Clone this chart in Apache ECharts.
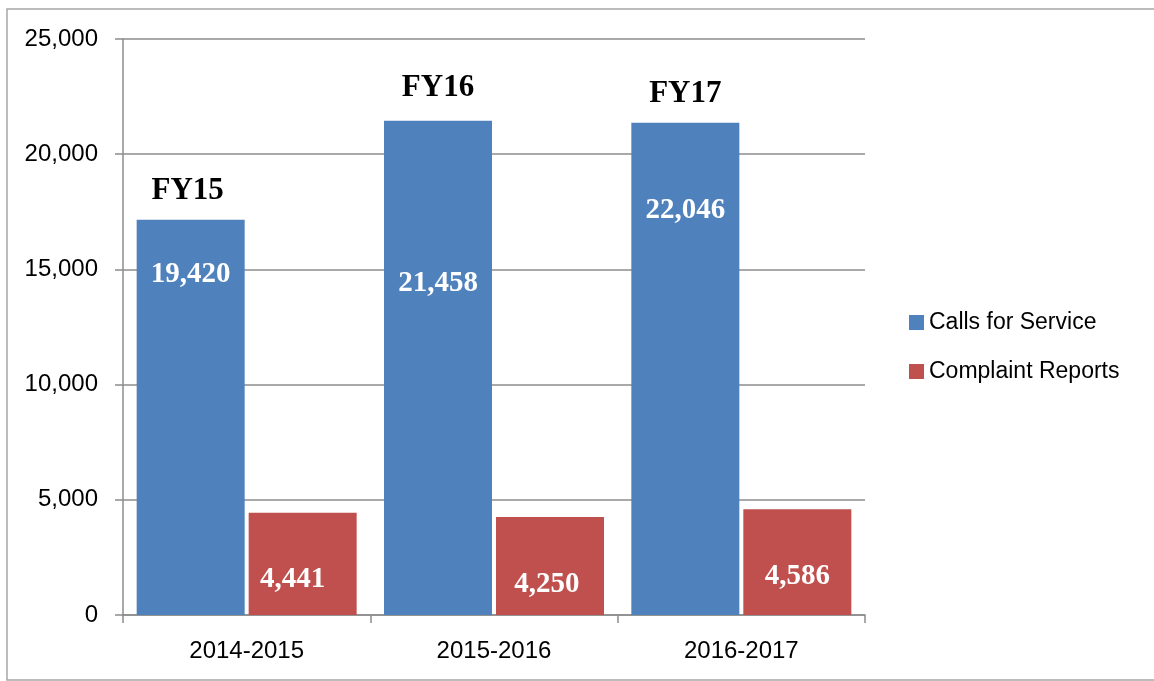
<!DOCTYPE html>
<html>
<head>
<meta charset="utf-8">
<script src="https://cdn.jsdelivr.net/npm/echarts@6/dist/echarts.min.js"></script>
<style>
  html, body { margin: 0; padding: 0; background: #fff; }
  #chart { width: 1154px; height: 681px; }
</style>
</head>
<body>
<div id="chart"></div>
<script>
// ---- data ----
const categories = ['2014-2015', '2015-2016', '2016-2017'];
const seriesNames = ['Calls for Service', 'Complaint Reports'];
const callsForService = [17150, 21455, 21370];          // bar heights as drawn
const callsLabels = ['19,420', '21,458', '22,046'];     // printed values
const complaintReports = [4441, 4250, 4586];
const fiscalYears = ['FY15', 'FY16', 'FY17'];
const yTickStep = 5000;
const yMax = 25000;

// ---- styling helpers (not data) ----
const blueLabelDepth = [55, 163, 88];   // label centre below bar top (px)
const redLabelDepth = [67, 67, 67];
const redLabelShift = [-10, -3, 0];
const fyLabelOffsetY = [-29, -33, -29];
const fyLabelShiftX = [-3, 0, 0];

const BLUE = '#4F81BD';
const RED = '#C0504D';
const GRID_GRAY = '#8c8c8c';
const SANS = 'Liberation Sans, Arial, sans-serif';
const SERIF = 'Liberation Serif, Times New Roman, serif';

const fmt = v => v.toLocaleString('en-US');

const chart = echarts.init(document.getElementById('chart'), null, { renderer: 'canvas' });

const option = {
  animation: false,
  backgroundColor: '#ffffff',
  graphic: [{
    type: 'rect',
    shape: { x: 7, y: 9, width: 1170, height: 671 },
    style: { fill: 'none', stroke: '#a6a6a6', lineWidth: 1.5 },
    silent: true
  }],
  grid: { left: 123, right: 289, top: 39, bottom: 66, containLabel: false },
  legend: {
    orient: 'vertical',
    left: 904,
    top: 306,
    itemWidth: 15,
    itemHeight: 15,
    itemGap: 26,
    icon: 'rect',
    data: seriesNames,
    textStyle: { fontFamily: SANS, fontSize: 23, color: '#000' }
  },
  xAxis: {
    type: 'category',
    data: categories,
    boundaryGap: true,
    axisLine: { show: true, lineStyle: { color: GRID_GRAY, width: 1.5 } },
    axisTick: { show: true, length: 8, alignWithLabel: false, lineStyle: { color: GRID_GRAY, width: 1.5 } },
    axisLabel: { fontFamily: SANS, fontSize: 24, color: '#000', margin: 24 },
    splitLine: { show: false }
  },
  yAxis: {
    type: 'value',
    min: 0,
    max: yMax,
    interval: yTickStep,
    axisLine: { show: true, lineStyle: { color: GRID_GRAY, width: 1.5 } },
    axisTick: { show: true, length: 8, lineStyle: { color: GRID_GRAY, width: 1.5 } },
    axisLabel: { fontFamily: SANS, fontSize: 24, color: '#000', margin: 25, formatter: v => fmt(v) },
    splitLine: { show: true, lineStyle: { color: GRID_GRAY, width: 1.5 } }
  },
  series: [
    {
      name: seriesNames[0],
      type: 'bar',
      barWidth: 108,
      barGap: '3.7%',
      itemStyle: { color: BLUE },
      data: callsForService.map((v, i) => ({
        value: v,
        label: { position: ['50%', blueLabelDepth[i]] }
      })),
      label: {
        show: true,
        align: 'center',
        verticalAlign: 'middle',
        color: '#fff',
        fontFamily: SERIF,
        fontWeight: 'bold',
        fontSize: 29,
        formatter: p => callsLabels[p.dataIndex]
      },
      markPoint: {
        symbol: 'circle',
        symbolSize: 1,
        itemStyle: { color: 'rgba(0,0,0,0)' },
        silent: true,
        data: fiscalYears.map((t, i) => ({
          name: t,
          coord: [categories[i], callsForService[i]],
          label: { offset: [fyLabelShiftX[i], fyLabelOffsetY[i]] }
        })),
        label: {
          show: true,
          position: 'inside',
          align: 'center',
          verticalAlign: 'middle',
          color: '#000',
          fontFamily: SERIF,
          fontWeight: 'bold',
          fontSize: 31,
          formatter: '{b}'
        }
      }
    },
    {
      name: seriesNames[1],
      type: 'bar',
      barWidth: 108,
      barGap: '3.7%',
      itemStyle: { color: RED },
      data: complaintReports.map((v, i) => ({
        value: v,
        label: { position: ['50%', redLabelDepth[i]], offset: [redLabelShift[i], 0] }
      })),
      label: {
        show: true,
        align: 'center',
        verticalAlign: 'middle',
        color: '#fff',
        fontFamily: SERIF,
        fontWeight: 'bold',
        fontSize: 29,
        formatter: p => fmt(p.value)
      }
    }
  ]
};

chart.setOption(option);
</script>
</body>
</html>
